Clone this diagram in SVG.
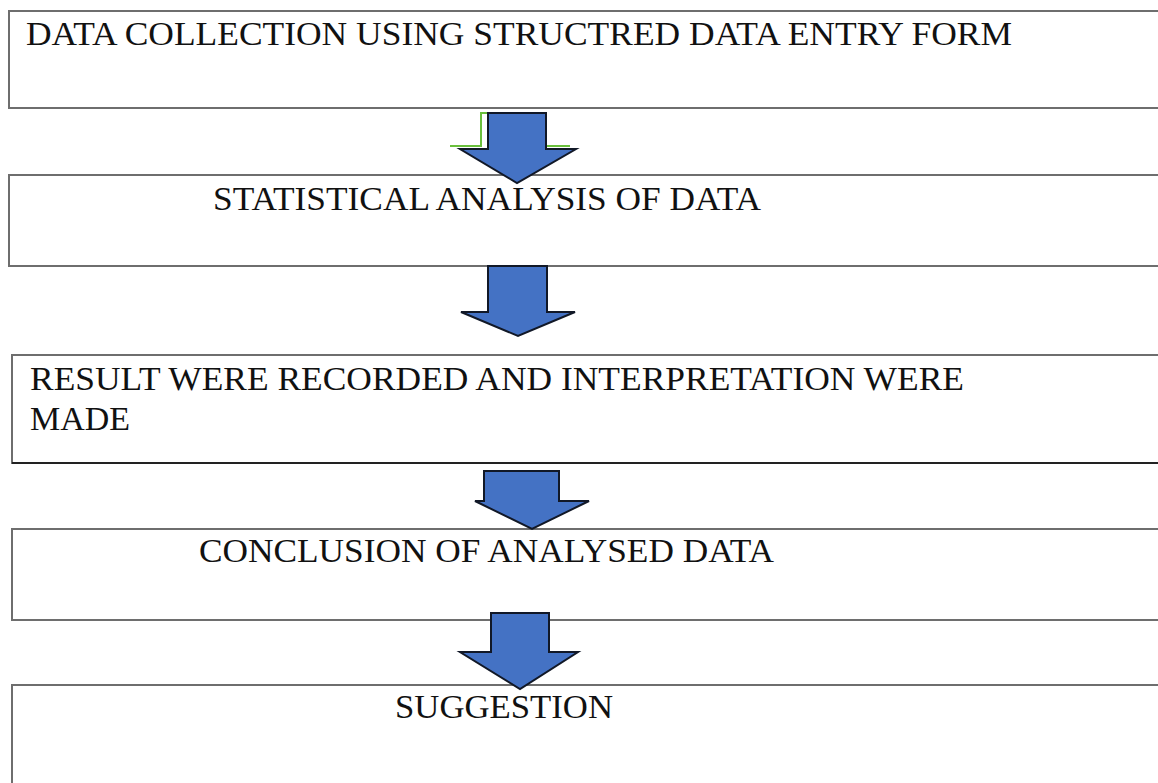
<svg xmlns="http://www.w3.org/2000/svg" width="1158" height="783" viewBox="0 0 1158 783">
<style>
.box{fill:#fff;stroke:#6e6e6e;stroke-width:2}
.t{font-family:"Liberation Serif","Times New Roman",serif;font-size:34px;fill:#111}
.arrow{fill:#4472C4;stroke:#111827;stroke-width:2;stroke-linejoin:miter}
.green{fill:none;stroke:#6abf3c;stroke-width:2}
</style>
<rect width="1158" height="783" fill="#fff"/>
<g id="node1">
<rect class="box" x="9" y="11" width="1200" height="97"/>
<text class="t" x="26" y="45" textLength="986" lengthAdjust="spacingAndGlyphs">DATA COLLECTION USING STRUCTRED DATA ENTRY FORM</text>
</g>
<g id="node2">
<rect class="box" x="9" y="175" width="1200" height="91"/>
<text class="t" x="213" y="210" textLength="548" lengthAdjust="spacingAndGlyphs">STATISTICAL ANALYSIS OF DATA</text>
</g>
<g id="node3">
<rect class="box" x="12" y="355" width="1200" height="108"/>
<line x1="12" y1="463" x2="1158" y2="463" stroke="#222" stroke-width="2"/>
<text class="t" x="30" y="390" textLength="934" lengthAdjust="spacingAndGlyphs">RESULT WERE RECORDED AND INTERPRETATION WERE</text>
<text class="t" x="30" y="430">MADE</text>
</g>
<g id="node4">
<rect class="box" x="12" y="529" width="1200" height="91"/>
<text class="t" x="199" y="562" textLength="575" lengthAdjust="spacingAndGlyphs">CONCLUSION OF ANALYSED DATA</text>
</g>
<g id="node5">
<rect class="box" x="12" y="685" width="1200" height="120"/>
<text class="t" x="395" y="718" textLength="218" lengthAdjust="spacingAndGlyphs">SUGGESTION</text>
</g>
<g id="connectors">
<polyline class="green" points="450,146 481,146 481,113 490,113"/>
<line class="green" x1="546" y1="146" x2="570" y2="146"/>
<polygon class="arrow" points="488,113 546,113 546,149 576,149 517,183 460,149 488,149"/>
<polygon class="arrow" points="488,266 547,266 547,312 575,312 518,336 461,312 488,312"/>
<polygon class="arrow" points="484,471 559,471 559,501 589,501 532,529 475,501 484,501"/>
<polygon class="arrow" points="491,613 549,613 549,652 578,652 520,689 460,652 491,652"/>
</g>
</svg>
